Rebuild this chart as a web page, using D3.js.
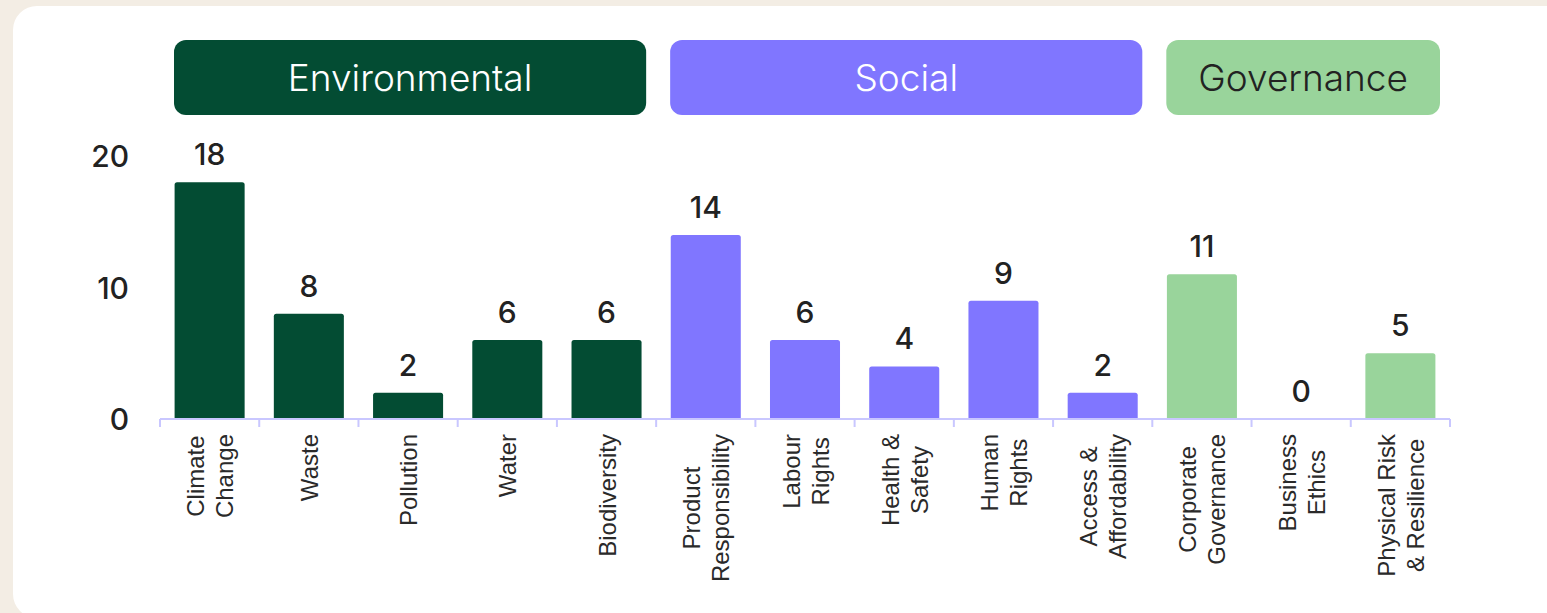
<!DOCTYPE html>
<html>
<head>
<meta charset="utf-8">
<script src="https://cdn.jsdelivr.net/npm/d3@7"></script>
<style>
    html, body { margin: 0; padding: 0; background: #f3ede4; overflow: hidden; }
    .value { font-family: Inter, "Noto Sans", sans-serif; font-weight: 500; font-size: 30px; fill: #222; }
    .ylabel { font-family: Inter, "Noto Sans", sans-serif; font-weight: 500; font-size: 30px; fill: #222; }
    .xlabel { font-family: "Liberation Sans", Arial, sans-serif; font-size: 24px; fill: #2a2a2a; }
    .group-title { font-family: Inter, "Noto Sans", sans-serif; font-size: 37px; font-weight: 300; }
</style>
</head>
<body>
<div id="chart"></div>
<script>
const categories = [
    "Climate\nChange", "Waste", "Pollution", "Water", "Biodiversity",
    "Product\nResponsibility", "Labour\nRights", "Health &\nSafety", "Human\nRights", "Access &\nAffordability",
    "Corporate\nGovernance", "Business\nEthics", "Physical Risk\n& Resilience"
]
const values = [18, 8, 2, 6, 6, 14, 6, 4, 9, 2, 11, 0, 5]
const pillars = ["Environmental", "Environmental", "Environmental", "Environmental", "Environmental",
    "Social", "Social", "Social", "Social", "Social",
    "Governance", "Governance", "Governance"]
const groupNames = ["Environmental", "Social", "Governance"]
const yTicks = [0, 10, 20]

const colors = { Environmental: "#034c33", Social: "#8076ff", Governance: "#99d49b" }
const titleColors = { Environmental: "#ffffff", Social: "#ffffff", Governance: "#222222" }

const W = 1547, H = 613
const margin = { top: 156, left: 160, right: 97, bottom: 194 }
const width = W - margin.left - margin.right
const height = 419 - margin.top

const svg = d3.select("#chart").append("svg")
    .attr("width", W)
    .attr("height", H)

// white card
svg.append("rect")
    .attr("x", 13).attr("y", 6)
    .attr("width", 1600).attr("height", 612)
    .attr("rx", 24)
    .attr("fill", "#ffffff")

const chart = svg.append("g")
    .attr("transform", `translate(${margin.left},${margin.top})`)

const ids = d3.range(categories.length)
const xScale = d3.scaleBand().domain(ids).range([0, width]).padding(0)
const yScale = d3.scaleLinear().domain([0, 20]).range([height, 0])
const inset = 14.6
const barW = xScale.bandwidth() - 2 * inset

// group header boxes
groupNames.forEach(function (g) {
    const idx = ids.filter((i) => pillars[i] === g)
    const x0 = xScale(idx[0]) + 14
    const x1 = xScale(idx[idx.length - 1]) + xScale.bandwidth() - 10
    chart.append("rect")
        .attr("x", x0).attr("y", 40 - margin.top)
        .attr("width", x1 - x0).attr("height", 75)
        .attr("rx", 12)
        .attr("fill", colors[g])
    chart.append("text")
        .attr("class", "group-title")
        .attr("x", (x0 + x1) / 2)
        .attr("y", 91 - margin.top)
        .attr("text-anchor", "middle")
        .attr("fill", titleColors[g])
        .text(g)
})

// y labels
chart.selectAll(".ylabel")
    .data(yTicks)
    .enter().append("text")
    .attr("class", "ylabel")
    .attr("x", -31)
    .attr("y", (d) => yScale(d) + 11)
    .attr("text-anchor", "end")
    .text((d) => d)

// bars with small rounded tops
function barPath(i) {
    const x = xScale(i) + inset
    const y = yScale(values[i])
    const h = height - y
    if (h <= 0) return ""
    const r = Math.min(2.5, h)
    return `M${x},${height}V${y + r}Q${x},${y} ${x + r},${y}H${x + barW - r}Q${x + barW},${y} ${x + barW},${y + r}V${height}Z`
}
chart.selectAll(".bar")
    .data(ids)
    .enter().append("path")
    .attr("class", "bar")
    .attr("d", (i) => barPath(i))
    .attr("fill", (i) => colors[pillars[i]])

// value labels
chart.selectAll(".value")
    .data(ids)
    .enter().append("text")
    .attr("class", "value")
    .attr("x", (i) => xScale(i) + xScale.bandwidth() / 2)
    .attr("y", (i) => yScale(values[i]) - 17)
    .attr("text-anchor", "middle")
    .text((i) => values[i])

// x axis line + boundary ticks
const axis = chart.append("g").attr("transform", `translate(0,${height})`)
axis.append("line")
    .attr("x1", 0).attr("x2", width)
    .attr("stroke", "#c9c7ff").attr("stroke-width", 2)
axis.selectAll(".tick")
    .data(d3.range(categories.length + 1))
    .enter().append("line")
    .attr("x1", (i) => i * xScale.step()).attr("x2", (i) => i * xScale.step())
    .attr("y1", 0).attr("y2", 8)
    .attr("stroke", "#c9c7ff").attr("stroke-width", 2)

// rotated multi-line category labels
const lineGap = 29
ids.forEach(function (i) {
    const lines = categories[i].split("\n")
    const cx = xScale(i) + xScale.bandwidth() / 2
    const g = axis.append("g")
    const texts = lines.map(function (l) {
        return g.append("text").attr("class", "xlabel").attr("text-anchor", "middle").text(l)
    })
    const maxLen = d3.max(texts, (t) => t.node().getComputedTextLength())
    const mid = 15 + maxLen / 2
    texts.forEach(function (t, k) {
        const bx = cx + 9 + (k - (lines.length - 1) / 2) * lineGap
        t.attr("transform", `translate(${bx},${mid}) rotate(-90)`)
    })
})
</script>
</body>
</html>
